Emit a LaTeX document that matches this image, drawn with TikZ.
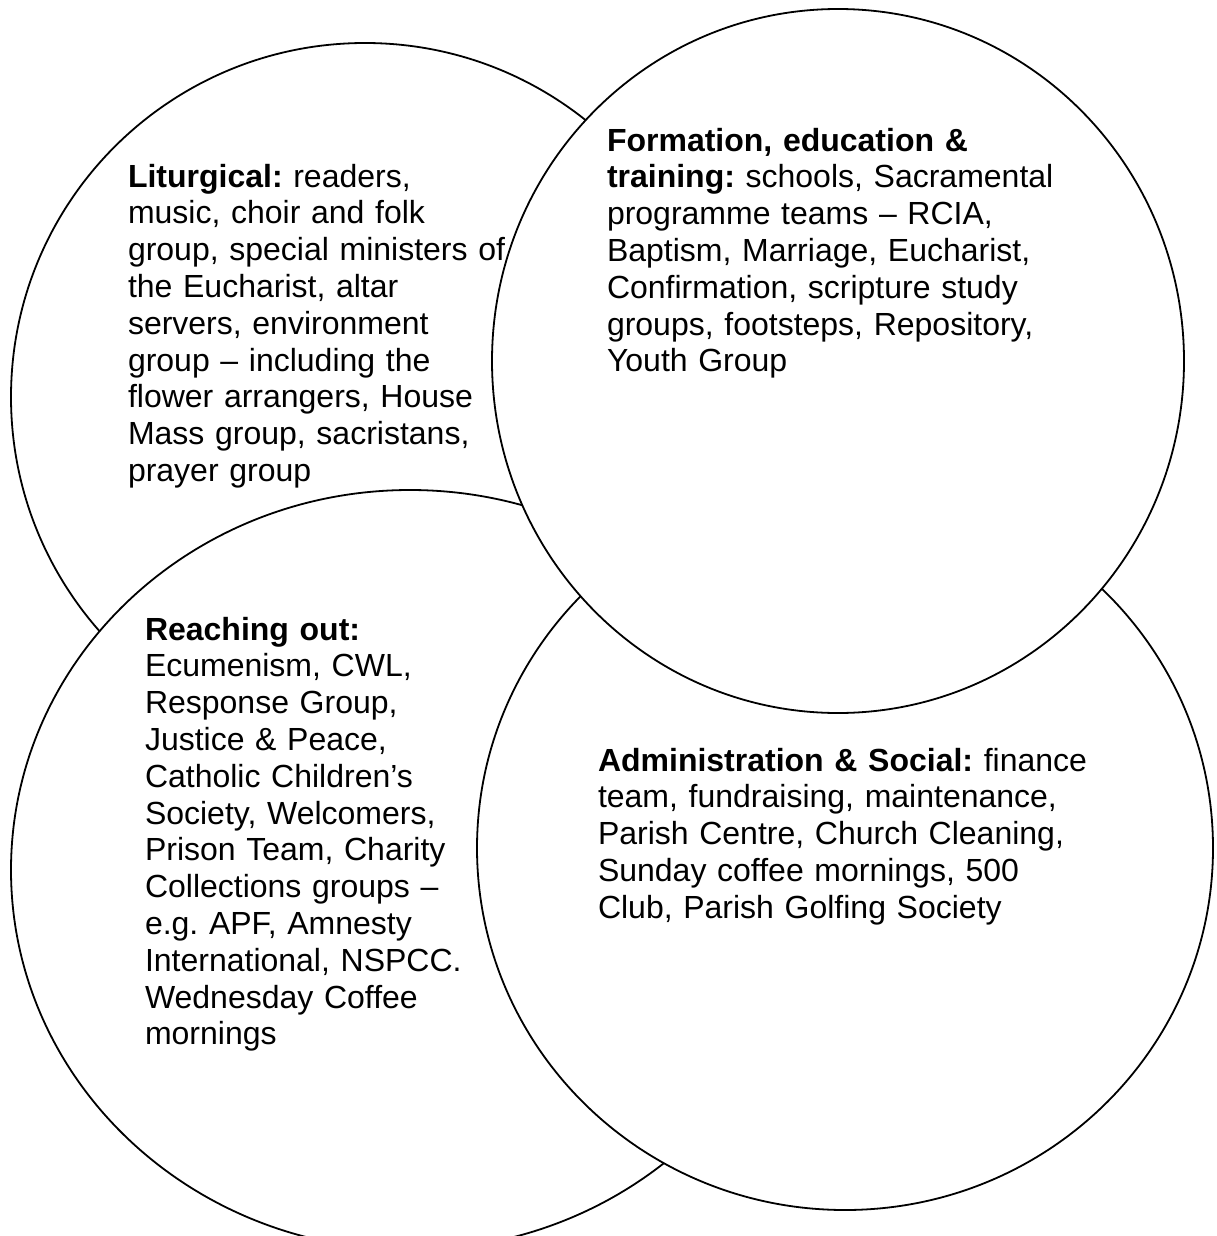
\documentclass[tikz,border=0pt]{standalone}
\usepackage{fontspec}
\setmainfont{Liberation Sans}
\usetikzlibrary{shapes.geometric}
\begin{document}
\begin{tikzpicture}[x=0.5pt,y=-0.5pt,
  ring/.style={ellipse, draw=black, fill=white, line width=0.9pt, inner sep=0pt, outer sep=0pt},
  label/.style={anchor=base west, inner sep=0pt, outer sep=0pt, text width=260pt, align=left,
    font=\fontsize{16}{18.4}\selectfont\frenchspacing}]
\useasboundingbox (0,0) rectangle (1216,1236);
\node[ring, minimum width=354pt, minimum height=354pt] (lit) at (365,397) {};
\node[ring, minimum width=399pt, minimum height=380pt] (reach) at (410,870) {};
\node[ring, minimum width=368pt, minimum height=362pt] (admin) at (845,848) {};
\node[ring, minimum width=346pt, minimum height=352pt] (form) at (838,361) {};
\node[label] (littext) at (128,187) {\textbf{Liturgical:} readers,\\
music, choir and folk\\
group, special ministers of\\
the Eucharist, altar\\
servers, environment\\
group – including the\\
flower arrangers, House\\
Mass group, sacristans,\\
prayer group};
\node[label] (formtext) at (607,151) {\textbf{Formation, education \&}\\
\textbf{training:} schools, Sacramental\\
programme teams – RCIA,\\
Baptism, Marriage, Eucharist,\\
Confirmation, scripture study\\
groups, footsteps, Repository,\\
Youth Group};
\node[label] (reachtext) at (145,640) {\textbf{Reaching out:}\\
Ecumenism, CWL,\\
Response Group,\\
Justice \& Peace,\\
Catholic Children’s\\
Society, Welcomers,\\
Prison Team, Charity\\
Collections groups –\\
e.g. APF, Amnesty\\
International, NSPCC.\\
Wednesday Coffee\\
mornings};
\node[label] (admintext) at (598,771) {\textbf{Administration \& Social:} finance\\
team, fundraising, maintenance,\\
Parish Centre, Church Cleaning,\\
Sunday coffee mornings, 500\\
Club, Parish Golfing Society};
\end{tikzpicture}
\end{document}
